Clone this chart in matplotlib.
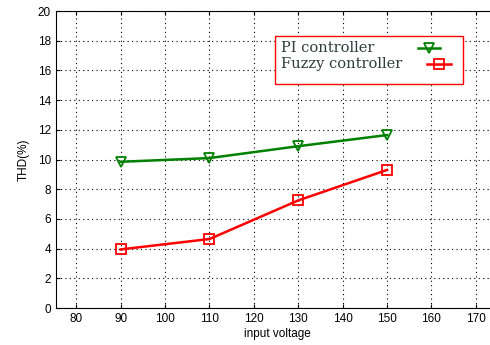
import matplotlib
matplotlib.use("Agg")
import matplotlib.pyplot as plt
from matplotlib.lines import Line2D
from matplotlib.patches import Rectangle

# Données
tension = [90, 110, 130, 150]
thd_pi = [9.85, 10.1, 10.9, 11.65]
thd_fuzzy = [3.95, 4.65, 7.25, 9.3]
xticks = [80, 90, 100, 110, 120, 130, 140, 150, 160, 170]
yticks = [0, 2, 4, 6, 8, 10, 12, 14, 16, 18, 20]
labels = ["PI controller", "Fuzzy controller"]

plt.rcParams["font.family"] = ["Liberation Sans", "DejaVu Sans"]

fig = plt.figure(figsize=(4.9, 3.45), dpi=100)
ax = fig.add_axes([0.114, 0.107, 0.906, 0.861])

style_pi = dict(color="#008000", lw=1.8, marker="v", markersize=7,
	markerfacecolor="none", markeredgewidth=1.3)
style_fuzzy = dict(color="#ff0000", lw=1.8, marker="s", markersize=7,
	markerfacecolor="none", markeredgewidth=1.3)

ax.plot(tension, thd_pi, **style_pi)
ax.plot(tension, thd_fuzzy, **style_fuzzy)

ax.set_xlim(75.4, 175.4)
ax.set_ylim(0, 20)
ax.set_xticks(xticks)
ax.set_yticks(yticks)
ax.tick_params(direction="in", top=True, right=False, labelsize=8.5, length=3)
ax.spines["right"].set_visible(False)
ax.grid(True, color="black", linestyle=(0, (1, 3)), linewidth=0.8)

ax.set_xlabel("input voltage", fontsize=8.5, labelpad=2)
ax.set_ylabel("THD(%)", fontsize=8.5, labelpad=6)

# Légende dessinée à la main (texte à gauche, symbole à droite)
W, H = 490, 345
fig.patches.append(Rectangle((275 / W, 1 - 84 / H), 188 / W, 48 / H,
	transform=fig.transFigure, fill=True, facecolor="white",
	edgecolor="#ff0000", lw=1.0, zorder=5))
rows = [(48, style_pi, 418, 440), (64, style_fuzzy, 427, 451)]
for label, (y, style, x0, x1) in zip(labels, rows):
	fig.text(281 / W, 1 - y / H, label, family="DejaVu Serif", fontsize=10.5,
		color="#2f3d3d", va="center", ha="left", zorder=6)
	fig.lines.append(Line2D([x0 / W, x1 / W], [1 - y / H, 1 - y / H],
		transform=fig.transFigure, color=style["color"], lw=style["lw"], zorder=6))
	fig.lines.append(Line2D([(x0 + x1) / 2 / W], [1 - y / H],
		transform=fig.transFigure, linestyle="none", marker=style["marker"],
		markersize=7, markerfacecolor="none", markeredgewidth=1.3,
		color=style["color"], zorder=6))

fig.savefig("out.png", dpi=100)
